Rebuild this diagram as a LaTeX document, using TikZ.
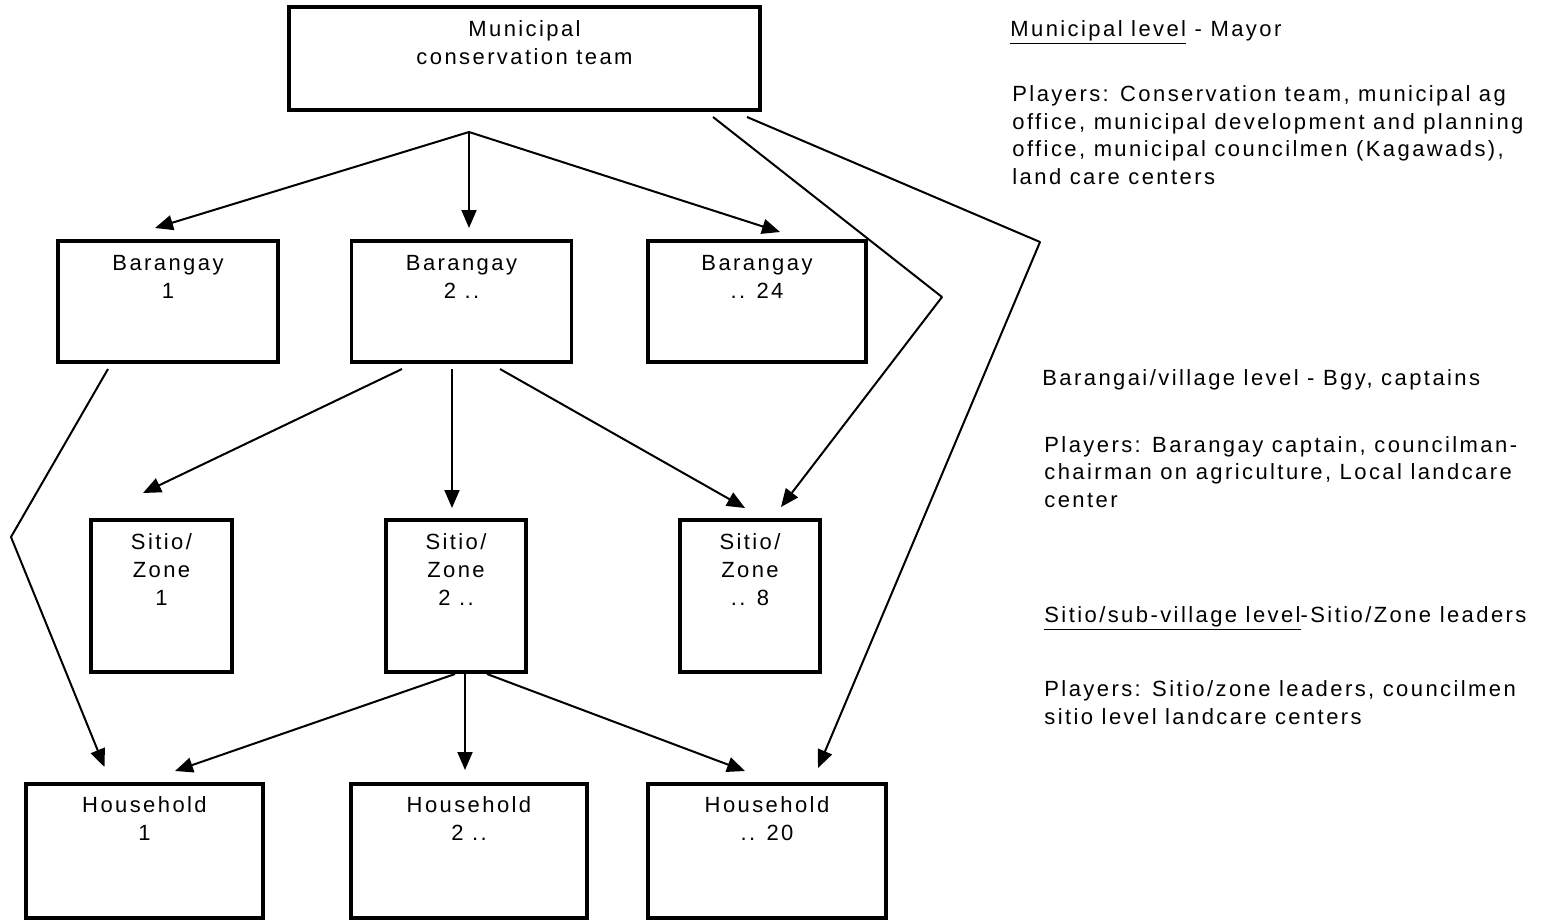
\documentclass[tikz,border=0pt]{standalone}
\usepackage{fontspec}
\setmainfont{Liberation Sans}[LetterSpace=11]
\usetikzlibrary{arrows.meta,calc}
\begin{document}
\begin{tikzpicture}[x=0.5pt,y=-0.5pt,
  box/.style={draw, line width=1.6pt, rectangle, inner sep=0pt, outer sep=0pt},
  lbl/.style={anchor=base, align=center, inner sep=0pt, font=\fontsize{11pt}{14pt}\selectfont},
  note/.style={anchor=base west, align=left, inner sep=0pt, font=\fontsize{11pt}{13.7pt}\selectfont},
  link/.style={line width=1pt, line join=round},
  arr/.style={link, -{Triangle[length=9pt,width=7.5pt]}}]
\useasboundingbox (0,0) rectangle (1556,921);

% boxes
\node[box, minimum width=235.5pt, minimum height=51.5pt] (mun) at (524.5,58.5) {};
\node[box, minimum width=110pt, minimum height=60.5pt] (b1) at (168,301.5) {};
\node[box, minimum width=110pt, minimum height=60.5pt] (b2) at (461.5,301.5) {};
\node[box, minimum width=109pt, minimum height=60.5pt] (b3) at (757,301.5) {};
\node[box, minimum width=70.5pt, minimum height=76pt] (s1) at (161.5,596) {};
\node[box, minimum width=70pt, minimum height=76pt] (s2) at (456,596) {};
\node[box, minimum width=70pt, minimum height=76pt] (s3) at (750,596) {};
\node[box, minimum width=118.5pt, minimum height=67pt] (h1) at (144.5,851) {};
\node[box, minimum width=118pt, minimum height=67pt] (h2) at (469,851) {};
\node[box, minimum width=119pt, minimum height=67pt] (h3) at (767,851) {};

% box texts (anchor = baseline of last line)
\node[lbl] (munt) at (524.5,64) {Municipal\\conservation team};
\node[lbl] (b1t) at (168,298) {Barangay\\1};
\node[lbl] (b2t) at (461.5,298) {Barangay\\2 ..};
\node[lbl] (b3t) at (757,298) {Barangay\\.. 24};
\node[lbl] (s1t) at (161.5,605) {Sitio/\\Zone\\1};
\node[lbl] (s2t) at (456,605) {Sitio/\\Zone\\2 ..};
\node[lbl] (s3t) at (750,605) {Sitio/\\Zone\\.. 8};
\node[lbl] (h1t) at (144.5,840) {Household\\1};
\node[lbl] (h2t) at (469,840) {Household\\2 ..};
\node[lbl] (h3t) at (767,840) {Household\\.. 20};

% right notes (anchor = baseline of last line)
\node[note] (n1) at (1010,36) {\underline{Municipal level} - Mayor};
\node[note] (n2) at (1012,184) {Players: Conservation team, municipal ag\\office, municipal development and planning\\office, municipal councilmen (Kagawads),\\land care centers};
\node[note] (n3) at (1042,385) {Barangai/village level - Bgy, captains};
\node[note] (n4) at (1044,507) {Players: Barangay captain, councilman-\\chairman on agriculture, Local landcare\\center};
\node[note] (n5) at (1044,622) {\underline{Sitio/sub-village level}-Sitio/Zone leaders};
\node[note] (n6) at (1044,724) {Players: Sitio/zone leaders, councilmen\\sitio level landcare centers};

% connector points
\coordinate (fork) at ($(mun.south)+(-55.5,22)$);
\coordinate (tb1) at ($(b1.north)+(-13,-13)$);
\coordinate (tb2) at ($(b2.north)+(7.5,-13)$);
\coordinate (tb3) at ($(b3.north)+(23,-9)$);
\coordinate (m1) at ($(mun.south east)+(-47,7)$);
\coordinate (k1) at (942,297);
\coordinate (ts3r) at ($(s3.north)+(31,-13)$);
\coordinate (m2) at ($(mun.south east)+(-13,7)$);
\coordinate (k2) at (1040,242);
\coordinate (th3r) at ($(h3.north)+(51,-16)$);
\coordinate (b1s) at ($(b1.south)+(-60,7)$);
\coordinate (k3) at (11,537);
\coordinate (th1l) at ($(h1.north)+(-40,-17)$);
\coordinate (b2a) at ($(b2.south)+(-59.5,7)$);
\coordinate (ts1) at ($(s1.north)+(-18.5,-27)$);
\coordinate (b2b) at ($(b2.south)+(-9.5,7)$);
\coordinate (ts2) at ($(s2.north)+(-4,-12)$);
\coordinate (b2c) at ($(b2.south)+(38.5,7)$);
\coordinate (ts3) at ($(s3.north)+(-5,-12)$);
\coordinate (s2a) at ($(s2.south)+(-1,2)$);
\coordinate (th1) at ($(h1.north)+(30.5,-13)$);
\coordinate (s2b) at ($(s2.south)+(9,2)$);
\coordinate (th2) at ($(h2.north)+(-4,-14)$);
\coordinate (s2c) at ($(s2.south)+(31,2)$);
\coordinate (th3) at ($(h3.north)+(-22,-13)$);

% connectors
\draw[arr] (fork) -- (tb1);
\draw[arr] (fork) -- (tb2);
\draw[arr] (fork) -- (tb3);
\draw[arr] (m1) -- (k1) -- (ts3r);
\draw[arr] (m2) -- (k2) -- (th3r);
\draw[arr] (b1s) -- (k3) -- (th1l);
\draw[arr] (b2a) -- (ts1);
\draw[arr] (b2b) -- (ts2);
\draw[arr] (b2c) -- (ts3);
\draw[arr] (s2a) -- (th1);
\draw[arr] (s2b) -- (th2);
\draw[arr] (s2c) -- (th3);
\end{tikzpicture}
\end{document}
